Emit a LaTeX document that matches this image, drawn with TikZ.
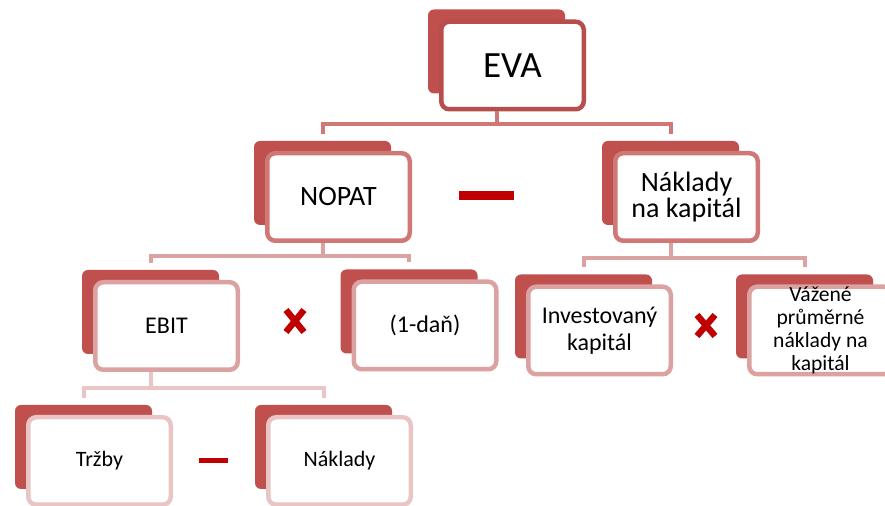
\documentclass[tikz,border=0pt]{standalone}
\usepackage{fontspec}
\setmainfont{Carlito}
\definecolor{backred}{HTML}{C0504D}
\definecolor{evaline}{HTML}{B84E4B}
\definecolor{lineA}{HTML}{CF7876}
\definecolor{lineB}{HTML}{DBA2A1}
\definecolor{lineC}{HTML}{E9C6C5}
\definecolor{opred}{HTML}{C00000}
\tikzset{
  backbox/.style={rectangle, rounded corners=3pt, fill=backred,
    minimum width=68.5pt, minimum height=42pt, inner sep=0pt},
  frontbox/.style={rectangle, rounded corners=4pt, fill=white, line width=2.25pt,
    minimum width=71.25pt, minimum height=43.75pt, inner sep=1pt, align=center},
  conn/.style={line width=2pt, shorten <=3.5pt, shorten >=3.5pt},
  opsign/.style={fill=opred},
  opcross/.style={draw=opred, line width=3.2pt},
}
\begin{document}
\begin{tikzpicture}[x=0.5pt, y=-0.5pt]
  \useasboundingbox (0,0) rectangle (885,506);
  \clip (0,0) rectangle (885,506);
  % back cards
  \node[backbox] (evab)  at (496.5,51.5) {};
  \node[backbox] (nopatb) at (322.5,183) {};
  \node[backbox] (naklb) at (670.5,183) {};
  \node[backbox] (ebitb) at (150.5,312) {};
  \node[backbox] (danb)  at (409,311.5) {};
  \node[backbox] (invb)  at (583.5,316.5) {};
  \node[backbox] (vazb)  at (804.5,316.5) {};
  \node[backbox] (trzb)  at (83.5,447) {};
  \node[backbox] (nakb)  at (323.5,447) {};
  % front cards
  \node[frontbox, draw=evaline, font=\fontsize{18.5}{20}\selectfont] (eva)
    at ([shift={(8pt,-7pt)}]evab) {EVA};
  \node[frontbox, draw=lineA, font=\fontsize{14}{16}\selectfont] (nopat)
    at ([shift={(8pt,-7pt)}]nopatb) {NOPAT};
  \node[frontbox, draw=lineA, font=\fontsize{14}{11.2}\selectfont] (nakl)
    at ([shift={(8pt,-7pt)}]naklb) {Náklady\\na kapitál};
  \node[frontbox, draw=lineB, font=\fontsize{12}{14}\selectfont] (ebit)
    at ([shift={(8pt,-7pt)}]ebitb) {EBIT};
  \node[frontbox, draw=lineB, font=\fontsize{12}{14}\selectfont] (dan)
    at ([shift={(8pt,-7pt)}]danb) {(1-daň)};
  \node[frontbox, draw=lineB, font=\fontsize{12}{13.3}\selectfont] (inv)
    at ([shift={(8pt,-7pt)}]invb) {Investovaný\\kapitál};
  \node[frontbox, draw=lineB] (vaz)
    at ([shift={(8pt,-7pt)}]vazb) {};
  \node[align=center, inner sep=0pt, font=\fontsize{10.8}{11.6}\selectfont] (vazt)
    at (vaz) {Vážené\\průměrné\\náklady na\\kapitál};
  \node[frontbox, draw=lineC, font=\fontsize{11}{12}\selectfont] (trz)
    at ([shift={(8pt,-7pt)}]trzb) {Tržby};
  \node[frontbox, draw=lineC, font=\fontsize{11}{12}\selectfont] (nak)
    at ([shift={(8pt,-7pt)}]nakb) {Náklady};
  % connectors
  \draw[line width=2pt, draw=lineA] (evab |- eva.south) -- ++(0,13) coordinate (evabus);
  \draw[conn, draw=lineA] (nopatb.north) |- (evabus) -| (naklb.north);
  \draw[line width=2pt, draw=lineB] (nopatb |- nopat.south) -- ++(0,13) coordinate (nopatbus);
  \draw[conn, draw=lineB] (ebitb.north) |- (nopatbus) -| (danb.north);
  \draw[line width=2pt, draw=lineB] (naklb |- nakl.south) -- ++(0,15) coordinate (naklbus);
  \draw[conn, draw=lineB] (invb.north) |- (naklbus) -| (vazb.north);
  \draw[line width=2pt, draw=lineC] (ebitb |- ebit.south) -- ++(0,16) coordinate (ebitbus);
  \draw[conn, draw=lineC] (trzb.north) |- (ebitbus) -| (nakb.north);
  % operators
  \fill[opsign] (459,191) rectangle (514,200);
  \fill[opsign] (199,458.5) rectangle (228,463.5);
  \draw[opcross] (286,310) -- (304,332) (304,310) -- (286,332);
  \draw[opcross] (697,315) -- (715,336) (715,315) -- (697,336);
\end{tikzpicture}
\end{document}
